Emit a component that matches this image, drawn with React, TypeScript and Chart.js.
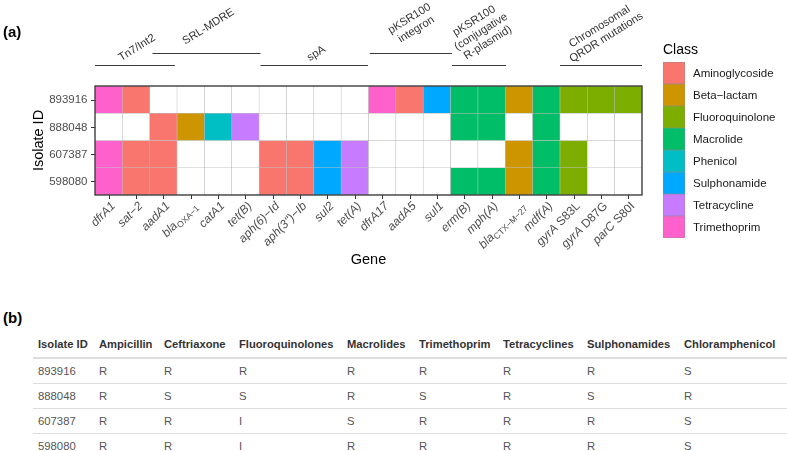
import React, { useEffect, useRef } from "react";
import { Chart, registerables } from "chart.js";

Chart.register(...registerables);

// ---------- data ----------
const isolates = ["893916", "888048", "607387", "598080"];
const genes = [
  "dfrA1", "sat-2", "aadA1", "blaOXA-1", "catA1", "tet(B)", "aph(6)-Id", "aph(3'')-Ib",
  "sul2", "tet(A)", "dfrA17", "aadA5", "sul1", "erm(B)", "mph(A)", "blaCTX-M-27",
  "mdf(A)", "gyrA S83L", "gyrA D87G", "parC S80I",
];
const geneClass = [
  "Trimethoprim", "Aminoglycoside", "Aminoglycoside", "Beta-lactam", "Phenicol", "Tetracycline",
  "Aminoglycoside", "Aminoglycoside", "Sulphonamide", "Tetracycline", "Trimethoprim",
  "Aminoglycoside", "Sulphonamide", "Macrolide", "Macrolide", "Beta-lactam", "Macrolide",
  "Fluoroquinolone", "Fluoroquinolone", "Fluoroquinolone",
];
const classes = [
  "Aminoglycoside", "Beta-lactam", "Fluoroquinolone", "Macrolide",
  "Phenicol", "Sulphonamide", "Tetracycline", "Trimethoprim",
];
const classColors = ["#F8766D", "#CD9600", "#7CAE00", "#00BE67", "#00BFC4", "#00A9FF", "#C77CFF", "#FF61CC"];
// presence (1) / absence (0) of each gene, one row per isolate
const presence893916 = [1, 1, 0, 0, 0, 0, 0, 0, 0, 0, 1, 1, 1, 1, 1, 1, 1, 1, 1, 1];
const presence888048 = [0, 0, 1, 1, 1, 1, 0, 0, 0, 0, 0, 0, 0, 1, 1, 0, 1, 0, 0, 0];
const presence607387 = [1, 1, 1, 0, 0, 0, 1, 1, 1, 1, 0, 0, 0, 0, 0, 1, 1, 1, 0, 0];
const presence598080 = [1, 1, 1, 0, 0, 0, 1, 1, 1, 1, 0, 0, 0, 1, 1, 1, 1, 1, 0, 0];
const presence = [presence893916, presence888048, presence607387, presence598080];

// genetic context groups (spans in gene-column units)
const groupNames = [
  "Tn7/Int2", "SRL-MDRE", "spA", "pKSR100\nintegron",
  "pKSR100\n(conjugative\nR-plasmid)", "Chromosomal\nQRDR mutations",
];
const groupStart = [0, 2.1, 6.05, 10.05, 13.05, 17];
const groupEnd = [2.92, 6.05, 9.98, 13.05, 15.03, 20];
const groupTier = [0, 1, 0, 1, 0, 0];

// susceptibility table
const drugs = [
  "Ampicillin", "Ceftriaxone", "Fluoroquinolones", "Macrolides",
  "Trimethoprim", "Tetracyclines", "Sulphonamides", "Chloramphenicol",
];
const ast893916 = ["R", "R", "R", "R", "R", "R", "R", "S"];
const ast888048 = ["R", "S", "S", "R", "S", "R", "S", "R"];
const ast607387 = ["R", "R", "I", "S", "R", "R", "R", "S"];
const ast598080 = ["R", "R", "I", "R", "R", "R", "R", "S"];
const astRows = [ast893916, ast888048, ast607387, ast598080];

// ---------- drawing helpers ----------
const FONT = "'Liberation Sans', Arial, Helvetica, sans-serif";
const minus = (s: string) => s.replace(/-/g, "\u2212");

type Part = { t: string; it: boolean; sub?: boolean };
function geneParts(g: string): Part[] {
  if (g.startsWith("bla")) return [{ t: "bla", it: true }, { t: minus(g.slice(3)), it: false, sub: true }];
  const sp = g.indexOf(" ");
  if (sp > 0) return [{ t: minus(g.slice(0, sp)), it: true }, { t: g.slice(sp), it: false }];
  return [{ t: minus(g), it: true }];
}

function partFont(p: Part, size: number) {
  const s = p.sub ? size * 0.72 : size;
  return `${p.it ? "italic " : ""}${s}px ${FONT}`;
}

const annotPlugin = {
  id: "annot",
  afterDraw(chart: any) {
    const ctx: CanvasRenderingContext2D = chart.ctx;
    const xs = chart.scales.x;
    const ys = chart.scales.y;
    const ca = chart.chartArea;
    const colW = xs.getPixelForValue(1) - xs.getPixelForValue(0);
    const x0 = xs.getPixelForValue(0) - colW / 2;

    ctx.save();
    // panel border
    ctx.strokeStyle = "#333333";
    ctx.lineWidth = 1.3;
    ctx.strokeRect(ca.left, ca.top, ca.right - ca.left, ca.bottom - ca.top);

    // y ticks + labels
    ctx.lineWidth = 1;
    ctx.fillStyle = "#4D4D4D";
    ctx.font = `11.5px ${FONT}`;
    ctx.textAlign = "right";
    ctx.textBaseline = "middle";
    isolates.forEach((iso, r) => {
      const y = ys.getPixelForValue(r + 0.5);
      ctx.beginPath();
      ctx.moveTo(ca.left - 4, Math.round(y) + 0.5);
      ctx.lineTo(ca.left, Math.round(y) + 0.5);
      ctx.stroke();
      ctx.fillText(iso, ca.left - 7.5, y + 0.5);
    });

    // x ticks + rotated labels
    const gsz = 12;
    genes.forEach((g, j) => {
      const x = xs.getPixelForValue(j);
      ctx.beginPath();
      ctx.moveTo(Math.round(x) + 0.5, ca.bottom);
      ctx.lineTo(Math.round(x) + 0.5, ca.bottom + 4);
      ctx.stroke();
      const parts = geneParts(g);
      let total = 0;
      const widths = parts.map((p) => {
        ctx.font = partFont(p, gsz);
        const w = ctx.measureText(p.t).width;
        total += w;
        return w;
      });
      ctx.save();
      ctx.translate(x + 0.5, ca.bottom + 5);
      ctx.rotate(-Math.PI / 4);
      ctx.textAlign = "left";
      ctx.textBaseline = "alphabetic";
      let cx = -total;
      parts.forEach((p, k) => {
        ctx.font = partFont(p, gsz);
        ctx.fillText(p.t, cx, gsz * 0.78 + (p.sub ? gsz * 0.25 : 0));
        cx += widths[k];
      });
      ctx.restore();
    });

    // axis titles
    ctx.fillStyle = "#000000";
    ctx.font = `14.5px ${FONT}`;
    ctx.textAlign = "center";
    ctx.textBaseline = "middle";
    ctx.fillText("Gene", (ca.left + ca.right) / 2, ca.bottom + 65);
    ctx.save();
    ctx.translate(ca.left - 56, (ca.top + ca.bottom) / 2);
    ctx.rotate(-Math.PI / 2);
    ctx.fillText("Isolate ID", 0, 0);
    ctx.restore();

    // group annotations
    const tierY = [ca.top - 21, ca.top - 33];
    const tierGap = [2.5, 7];
    const th = (32 * Math.PI) / 180;
    const asz = 11.2;
    const lh = 12.8;
    groupNames.forEach((name, i) => {
      const xa = x0 + groupStart[i] * colW;
      const xb = x0 + groupEnd[i] * colW;
      const tier = groupTier[i];
      const ly = tierY[tier];
      ctx.strokeStyle = "#3a3a3a";
      ctx.lineWidth = 1.1;
      ctx.beginPath();
      ctx.moveTo(xa, Math.round(ly) + 0.5);
      ctx.lineTo(xb, Math.round(ly) + 0.5);
      ctx.stroke();
      const lines = name.split("\n");
      ctx.font = `${asz}px ${FONT}`;
      const L = Math.max(...lines.map((l) => ctx.measureText(l).width));
      const H = (lines.length - 1) * lh + asz * 0.8;
      const bboxH = L * Math.sin(th) + H * Math.cos(th);
      const cx = (xa + xb) / 2 + 2;
      const cy = Math.max(ly - tierGap[tier] - bboxH / 2, bboxH / 2 + 0.5);
      ctx.save();
      ctx.translate(cx, cy);
      ctx.rotate(-th);
      ctx.fillStyle = "#333333";
      ctx.textAlign = "center";
      ctx.textBaseline = "middle";
      lines.forEach((l, k) => ctx.fillText(l, 0, (k - (lines.length - 1) / 2) * lh));
      ctx.restore();
    });

    // legend
    const lx = ca.right + 21;
    const ly0 = ca.top - 24;
    ctx.fillStyle = "#000000";
    ctx.font = `14px ${FONT}`;
    ctx.textAlign = "left";
    ctx.textBaseline = "alphabetic";
    ctx.fillText("Class", lx, ly0 - 8);
    classes.forEach((c, k) => {
      const y = ly0 + k * 22;
      ctx.fillStyle = classColors[k];
      ctx.fillRect(lx, y, 22, 22);
      ctx.strokeStyle = "rgba(140,140,140,0.35)";
      ctx.lineWidth = 1;
      ctx.strokeRect(lx + 0.5, y + 0.5, 21, 21);
      ctx.fillStyle = "#1a1a1a";
      ctx.font = `11.5px ${FONT}`;
      ctx.textBaseline = "middle";
      ctx.fillText(minus(c), lx + 30, y + 11.5);
    });

    // panel tag
    ctx.fillStyle = "#000000";
    ctx.font = `bold 15px ${FONT}`;
    ctx.textBaseline = "middle";
    ctx.textAlign = "left";
    ctx.fillText("(a)", 3, 33);
    ctx.restore();
  },
};

// ---------- component ----------
export default function App() {
  const ref = useRef<HTMLCanvasElement | null>(null);

  useEffect(() => {
    if (!ref.current) return;
    const datasets = isolates.map((iso, r) => ({
      label: iso,
      data: genes.map(() => [r, r + 1]),
      backgroundColor: genes.map((g, j) =>
        presence[r][j] ? classColors[classes.indexOf(geneClass[j])] : "#ffffff"
      ),
      borderColor: "rgba(110,110,110,0.35)",
      borderWidth: 0.6,
      borderSkipped: false,
      grouped: false,
      barPercentage: 1,
      categoryPercentage: 1,
    }));
    const chart = new Chart(ref.current, {
      type: "bar",
      data: { labels: genes, datasets: datasets as any },
      options: {
        responsive: false,
        animation: false,
        events: [],
        layout: { padding: { left: 95, right: 145, top: 86, bottom: 95 } },
        plugins: { legend: { display: false }, tooltip: { enabled: false } },
        scales: {
          x: { type: "category", display: false, offset: true },
          y: { type: "linear", display: false, min: 0, max: 4, reverse: true },
        },
      },
      plugins: [annotPlugin],
    });
    return () => chart.destroy();
  }, []);

  const colW = [61, 65, 75, 108, 72, 84, 84, 97, 108];
  const cell = (w: number, extra: React.CSSProperties = {}): React.CSSProperties => ({
    width: w,
    flex: "none",
    paddingLeft: 5,
    boxSizing: "border-box",
    whiteSpace: "nowrap",
    ...extra,
  });

  return (
    <div
      style={{
        position: "absolute",
        left: 0,
        top: 0,
        width: 787,
        height: 451,
        overflow: "hidden",
        background: "#ffffff",
        fontFamily: FONT,
      }}
    >
      <canvas ref={ref} width={787} height={290} style={{ position: "absolute", left: 0, top: 0, display: "block" }} />
      <div style={{ position: "absolute", left: 3, top: 309, fontWeight: "bold", fontSize: 15, lineHeight: "18px", color: "#000" }}>
        (b)
      </div>
      <div style={{ position: "absolute", left: 33, right: 0, top: 331 }}>
        <div
          style={{
            height: 26,
            display: "flex",
            alignItems: "center",
            borderBottom: "2px solid #dddddd",
            fontWeight: "bold",
            fontSize: 11.2,
            color: "#333333",
          }}
        >
          <div style={cell(colW[0])}>Isolate ID</div>
          {drugs.map((d, k) => (
            <div key={d} style={cell(colW[k + 1])}>{d}</div>
          ))}
        </div>
        {isolates.map((iso, r) => (
          <div
            key={iso}
            style={{
              height: 24,
              display: "flex",
              alignItems: "center",
              borderBottom: "1px solid #dddddd",
              fontSize: 11.3,
              color: "#555555",
            }}
          >
            <div style={cell(colW[0])}>{iso}</div>
            {astRows[r].map((v, k) => (
              <div key={k} style={cell(colW[k + 1])}>{v}</div>
            ))}
          </div>
        ))}
      </div>
    </div>
  );
}
